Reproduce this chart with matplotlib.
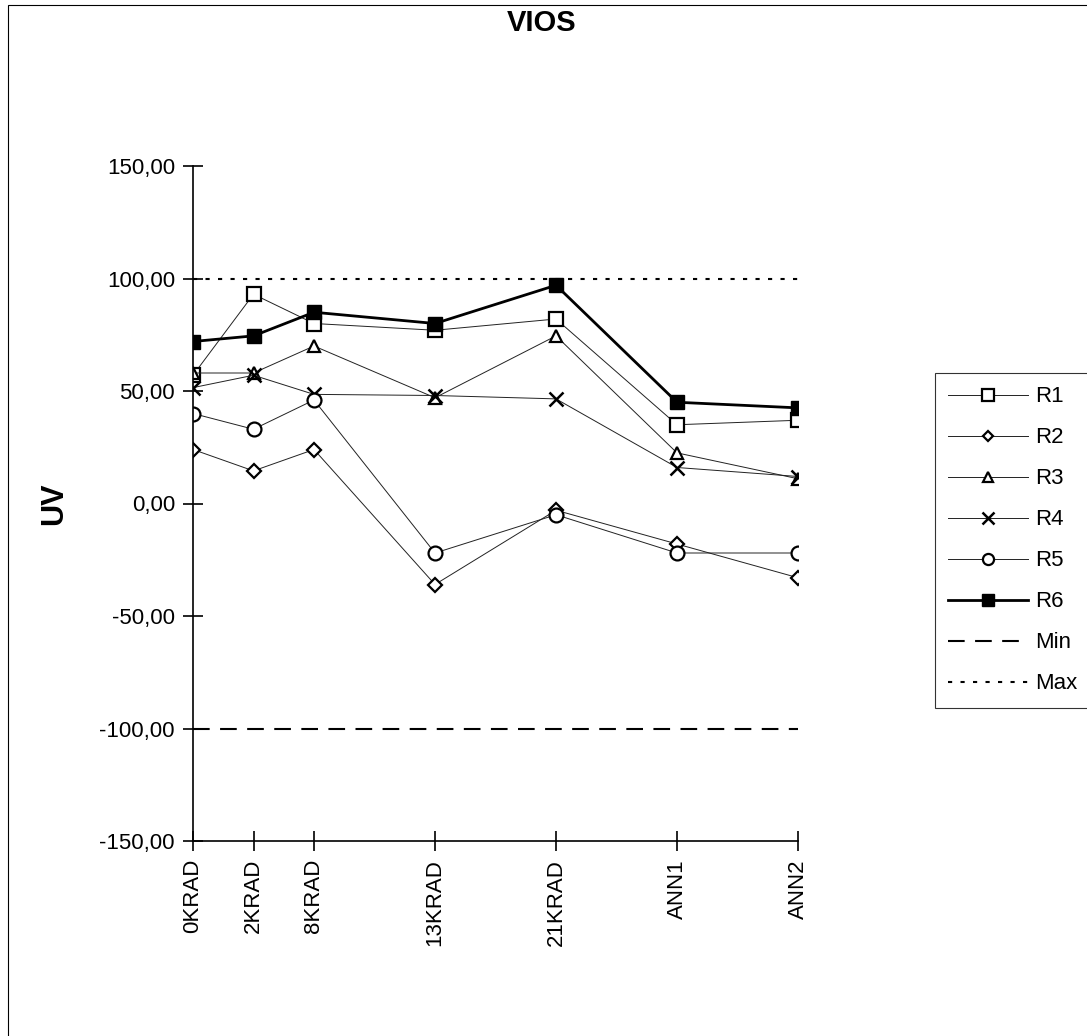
import matplotlib
matplotlib.use('Agg')  # no display
import matplotlib.pyplot as plt
from matplotlib.patches import Rectangle

plt.rcParams['font.family'] = ['Liberation Sans', 'DejaVu Sans']

# steps along the x axis (uneven spacing, as in the original sheet)
steps = ['0KRAD', '2KRAD', '8KRAD', '13KRAD', '21KRAD', 'ANN1', 'ANN2']
step_pos = [0, 1, 2, 4, 6, 8, 10]

r1 = [57, 93, 80, 77, 82, 35, 37]
r2 = [24, 14.5, 24, -36, -3, -18, -33]
r3 = [58, 58, 70, 47, 74.5, 22.5, 11]
r4 = [51.5, 57, 48.5, 48, 46.5, 16, 12]
r5 = [40, 33, 46, -22, -5, -22, -22]
r6 = [72, 74.5, 85, 80, 97, 45, 42.5]

min_limit = -100
max_limit = 100

y_ticks = [-150, -100, -50, 0, 50, 100, 150]

fig = plt.figure(figsize=(10.87, 10.36), dpi=100)
ax = fig.add_axes([193 / 1087, 1 - 841 / 1036, (798 - 193) / 1087, (841 - 166) / 1036])

open_style = dict(color='#222222', linewidth=0.7, markerfacecolor='white',
                  markeredgecolor='black', markeredgewidth=1.6)

ax.plot(step_pos, r1, marker='s', markersize=10, label='R1', **open_style)
ax.plot(step_pos, r2, marker='D', markersize=7, label='R2', **open_style)
ax.plot(step_pos, r3, marker='^', markersize=9, label='R3', **open_style)
ax.plot(step_pos, r4, marker='x', markersize=10, label='R4', color='#222222',
        markeredgecolor='black', linewidth=0.7, markeredgewidth=1.8)
ax.plot(step_pos, r5, marker='o', markersize=10, label='R5', **open_style)
ax.plot(step_pos, r6, marker='s', markersize=10, label='R6', color='black',
        linewidth=2.0, markerfacecolor='black', markeredgecolor='black')

ax.axhline(min_limit, xmin=0, xmax=1, color='black', linewidth=1.5,
           linestyle=(0, (8, 5)), label='Min')
ax.axhline(max_limit, xmin=0, xmax=1, color='black', linewidth=1.5,
           linestyle=(0, (2, 4)), label='Max')

ax.set_xlim(0, 10)
ax.set_ylim(-150, 150)
for side in ['top', 'right']:
    ax.spines[side].set_visible(False)
ax.spines['left'].set_linewidth(1.2)
ax.spines['bottom'].set_linewidth(1.2)

ax.set_yticks(y_ticks)
ax.set_yticklabels([f'{v:.2f}'.replace('.', ',') for v in y_ticks], fontsize=16)
ax.set_xticks(step_pos)
ax.set_xticklabels(steps, rotation=90, fontsize=16)
ax.tick_params(direction='inout', length=14, width=1.2, pad=6)

ax.set_ylabel('UV', fontsize=22, fontweight='bold', labelpad=22)
fig.text(542 / 1087, 1 - 23 / 1036, 'VIOS', fontsize=21, fontweight='bold',
         ha='center', va='center')

handles, labels = ax.get_legend_handles_labels()
leg = fig.legend(handles, labels, loc='upper left',
                 bbox_to_anchor=(935 / 1087, 1 - 373 / 1036),
                 fontsize=16, frameon=True, fancybox=False, edgecolor='black',
                 handlelength=3.6, labelspacing=0.9, borderpad=0.6,
                 handletextpad=0.3, borderaxespad=0, markerscale=0.8)
leg.get_frame().set_linewidth(0.8)

# thin frame of the scanned page
fig.patches.append(Rectangle((8 / 1087, -0.1), 1.2, 1 - 5 / 1036 + 0.1,
                             transform=fig.transFigure, fill=False,
                             edgecolor='black', linewidth=0.8))

fig.savefig('out.png', dpi=100)
plt.close(fig)
